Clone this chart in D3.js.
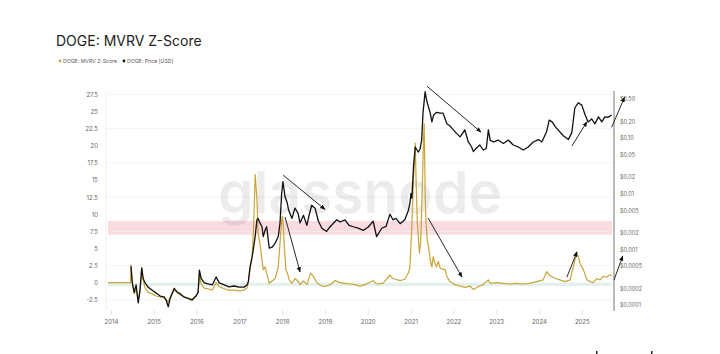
<!DOCTYPE html>
<html>
<head>
<meta charset="utf-8">
<script src="https://cdn.jsdelivr.net/npm/d3@7/dist/d3.min.js"></script>
<style>
  html, body { margin: 0; padding: 0; background: #fff; }
  svg { display: block; }
  text { font-family: Inter, "Noto Sans", sans-serif; }
</style>
</head>
<body>
<svg id="chart" width="720" height="354"></svg>
<script>
// ---------------- DATA ----------------
const title = "DOGE: MVRV Z-Score";
const seriesNames = ["DOGE: MVRV Z-Score", "DOGE: Price [USD]"];

const priceDates = ["2014-06-21","2014-07-02","2014-07-18","2014-08-04","2014-08-22","2014-09-06","2014-09-21","2014-10-03","2014-10-20","2014-11-14","2014-12-17",
"2015-01-23","2015-02-25","2015-03-31","2015-04-17","2015-05-05","2015-05-21","2015-06-25","2015-07-21","2015-08-15","2015-09-17","2015-10-24","2015-11-25","2015-12-28",
"2016-01-15","2016-01-26","2016-02-10","2016-03-07","2016-04-09","2016-05-15","2016-06-17","2016-07-13","2016-08-26","2016-10-04","2016-11-17","2016-12-30",
"2017-02-10","2017-03-07","2017-03-18","2017-04-02","2017-04-20","2017-05-03","2017-05-16","2017-05-31","2017-06-10","2017-06-29","2017-07-13","2017-07-24","2017-08-08","2017-08-22","2017-09-13","2017-10-08","2017-11-03","2017-11-29","2017-12-14","2017-12-28",
"2018-01-08","2018-01-26","2018-02-14","2018-02-25","2018-03-26","2018-04-20","2018-05-16","2018-06-03","2018-07-02","2018-07-31","2018-08-19","2018-09-10","2018-10-09","2018-11-07","2018-12-06",
"2019-01-15","2019-02-14","2019-04-13","2019-05-10","2019-06-21","2019-07-26","2019-08-31","2019-10-11","2019-11-25",
"2020-01-04","2020-02-17","2020-03-17","2020-04-30","2020-06-06","2020-07-09","2020-08-03","2020-08-29","2020-10-04","2020-11-13","2020-12-13","2020-12-27",
"2021-01-04","2021-01-12","2021-01-26","2021-02-10","2021-02-25","2021-03-08","2021-03-22","2021-04-06","2021-04-17","2021-04-28","2021-05-05","2021-05-18","2021-06-03","2021-06-18","2021-07-02","2021-07-17","2021-08-11","2021-09-10","2021-10-05","2021-11-07","2021-12-03",
"2022-01-01","2022-01-30","2022-02-28","2022-04-09","2022-05-09","2022-06-06","2022-06-21","2022-07-13","2022-08-15","2022-09-13","2022-10-09","2022-10-27","2022-11-11","2022-12-10",
"2023-01-17","2023-03-04","2023-04-15","2023-05-27","2023-07-10","2023-08-21","2023-10-02","2023-11-14","2023-12-28",
"2024-01-26","2024-03-07","2024-03-29","2024-04-23","2024-05-19","2024-06-13","2024-07-27","2024-09-09","2024-10-08","2024-11-03","2024-12-02",
"2025-01-01","2025-01-30","2025-02-24","2025-03-26","2025-04-23","2025-05-23","2025-06-21","2025-07-17","2025-08-11","2025-09-13"];

const priceValues = [0.00050,0.00025,0.00017,0.00023,0.000109,0.000186,0.00046,0.00030,0.00025,0.00021,0.000186,
0.000164,0.000145,0.00014,0.000123,0.000093,0.00013,0.00020,0.00017,0.00016,0.00014,0.00013,0.000123,0.000145,
0.00017,0.000425,0.00030,0.00025,0.00024,0.00023,0.00032,0.00025,0.00023,0.000213,0.00022,0.00021,
0.00021,0.00023,0.00026,0.00048,0.00074,0.0011,0.0017,0.0034,0.0036,0.0029,0.00255,0.0017,0.0022,0.00255,0.00105,0.0011,0.0013,0.0017,0.0030,0.0101,
0.0164,0.0088,0.0068,0.0051,0.0036,0.0055,0.0045,0.0030,0.0041,0.0027,0.0041,0.0062,0.0055,0.0032,0.0024,
0.0021,0.00255,0.0034,0.0031,0.0034,0.0027,0.00255,0.0024,0.0022,
0.0025,0.0032,0.0017,0.0024,0.0026,0.0043,0.0034,0.0036,0.0029,0.0034,0.0050,0.0068,
0.0101,0.0083,0.0305,0.069,0.061,0.056,0.063,0.092,0.28,0.48,0.68,0.48,0.36,0.28,0.195,0.26,0.29,0.28,0.28,0.18,0.165,
0.14,0.12,0.105,0.14,0.085,0.069,0.057,0.065,0.075,0.061,0.065,0.14,0.092,0.085,
0.092,0.080,0.092,0.075,0.069,0.061,0.069,0.085,0.094,
0.085,0.13,0.21,0.195,0.16,0.14,0.11,0.094,0.125,0.35,0.43,
0.39,0.26,0.195,0.22,0.18,0.24,0.195,0.24,0.235,0.26];

const zDates = ["2013-12-05","2014-06-18","2014-06-21","2014-07-02","2014-07-18","2014-08-04","2014-08-22","2014-09-06","2014-09-21","2014-10-03","2014-10-20","2014-11-14","2014-12-17",
"2015-01-23","2015-02-25","2015-03-31","2015-04-17","2015-05-05","2015-05-21","2015-06-25","2015-07-21","2015-08-15","2015-09-17","2015-10-24","2015-11-25","2015-12-28",
"2016-01-15","2016-01-26","2016-02-10","2016-03-07","2016-04-09","2016-05-15","2016-06-17","2016-07-13","2016-08-26","2016-10-04","2016-11-17","2016-12-30",
"2017-02-10","2017-03-07","2017-03-18","2017-04-02","2017-04-20","2017-05-03","2017-05-16","2017-05-31","2017-06-10","2017-06-29","2017-07-13","2017-07-24","2017-08-08","2017-08-22","2017-09-13","2017-10-08","2017-11-03","2017-11-29","2017-12-14","2017-12-28",
"2018-01-04","2018-01-11","2018-01-19","2018-02-02","2018-02-15","2018-03-03","2018-03-26","2018-04-20","2018-05-16","2018-06-03","2018-07-02","2018-07-31","2018-09-02","2018-09-24","2018-10-29","2018-12-06",
"2019-01-15","2019-02-14","2019-03-29","2019-05-10","2019-06-21","2019-08-04","2019-09-13","2019-10-27","2019-12-09",
"2020-02-17","2020-03-17","2020-05-11","2020-07-09","2020-08-03","2020-10-04","2020-11-13","2020-12-13","2020-12-27",
"2021-01-12","2021-01-26","2021-02-10","2021-02-17","2021-02-28","2021-03-18","2021-03-29","2021-04-13","2021-04-20","2021-04-27","2021-05-06","2021-05-12","2021-05-23","2021-06-03","2021-06-18","2021-07-02","2021-07-13","2021-07-28","2021-08-11","2021-08-26","2021-09-10","2021-10-09","2021-10-23","2021-11-07","2021-12-03",
"2022-01-15","2022-02-28","2022-04-09","2022-05-23","2022-06-21","2022-07-31","2022-09-13","2022-10-27","2022-11-11",
"2023-01-01","2023-02-28","2023-05-01","2023-06-21","2023-08-19","2023-10-16","2023-12-13",
"2024-02-06","2024-03-07","2024-03-29","2024-04-19","2024-05-19","2024-06-28","2024-08-11","2024-09-24","2024-10-20","2024-11-18","2024-12-02","2024-12-17",
"2025-01-01","2025-01-15","2025-02-14","2025-03-11","2025-04-09","2025-05-08","2025-06-07","2025-07-02","2025-07-31","2025-08-29","2025-09-13"];

const zValues = [0,0,2.6,0.2,-1.6,-1.1,-2.5,-1.4,2.2,0.4,-0.8,-1.4,-1.65,
-1.95,-2.1,-2.25,-2.5,-2.8,-2.1,-1.1,-1.5,-1.8,-2.1,-2.25,-2.4,-1.95,
-1.5,1.0,-0.2,-0.8,-0.9,-1.1,0,-0.6,-0.9,-1.1,-1.1,-1.2,
-1.1,-0.8,-0.1,1.9,3.8,8.2,15.8,12.1,7.2,5.3,3.3,1.9,2.3,1.4,-0.1,0.25,0.6,2.3,5.8,9.2,
9.7,8.2,5.3,1.9,1.4,0.4,-0.1,0.6,0.25,-0.3,0.25,-0.3,1.4,0.9,-0.1,-0.5,
-0.5,-0.3,0.3,0,-0.1,-0.2,-0.3,-0.5,-0.3,
0.3,-0.2,-0.1,1.1,0.6,0.3,0.5,1.4,2.3,
8.2,15.0,20.4,15.0,8.7,4.3,6.2,15.0,20.0,23.2,12.6,9.2,6.2,5.3,3.3,2.3,3.8,2.8,2.3,3.1,2.15,1.9,1.9,0.9,0.15,
-0.3,-0.5,-0.7,-0.5,-1.0,-0.6,-0.3,0.4,-0.1,
0,-0.1,-0.2,-0.1,-0.2,-0.1,0.15,
0.4,1.6,1.1,0.9,0.6,0.4,0.15,0.4,2.3,4.3,3.8,2.8,
2.3,1.9,0.4,0.15,0,0.6,0.4,0.9,0.8,1.1,1.0];

const zTicks = [-2.5,0,2.5,5,7.5,10,12.5,15,17.5,20,22.5,25,27.5];
const zTickLabels = ["-2.5","0","2.5","5","7.5","10","12.5","15","17.5","20","22.5","25","27.5"];
const zGridLines = [-2.5,2.5,7.5,12.5,17.5,22.5,27.5];
const priceTicks = [0.0001,0.0002,0.0005,0.001,0.002,0.005,0.01,0.02,0.05,0.1,0.2,0.5];
const priceTickLabels = ["$0.0001","$0.0002","$0.0005","$0.001","$0.002","$0.005","$0.01","$0.02","$0.05","$0.10","$0.20","$0.50"];
const yearTicks = [2014,2015,2016,2017,2018,2019,2020,2021,2022,2023,2024,2025];
const redBand = [7, 9];
const greenBand = [-0.5, 0];
// annotation arrows: [startDate, startZ, endDate, endZ]
const arrows = [
  ["2018-01-10", 15.7, "2019-01-02", 10.7],
  ["2018-01-26", 9.6, "2018-06-03", 1.55],
  ["2021-05-21", 28.7, "2022-08-25", 22.0],
  ["2021-05-30", 9.45, "2022-03-16", 0.8],
  ["2024-10-08", 19.95, "2025-02-14", 23.5],
  ["2024-08-27", 0.8, "2024-11-21", 4.5],
  ["2025-09-13", 22.7, "2026-01-01", 27.1],
  ["2025-10-03", 0.4, "2025-12-17", 3.9]
];

// ---------------- CHART ----------------
const svg = d3.select("#chart");
const plotL = 106, plotR = 614, plotT = 91, plotB = 310;
const parse = d3.timeParse("%Y-%m-%d");

const x = d3.scaleTime().domain([parse("2013-11-20"), parse("2025-10-03")]).range([plotL, plotR]);
const yZ = d3.scaleLinear().domain([-4, 28]).range([plotB, plotT]);
const yP = d3.scaleLog().domain([0.0000815, 0.70]).range([plotB, plotT]);

const gold = "#c8a536";
const ink = "#111";

// Title
svg.append("text").attr("x", 56).attr("y", 46).attr("font-size", 14).attr("fill", "#222")
  .text(title);

// Legend
const legend = svg.append("g").attr("font-size", 5.2).attr("fill", "#555");
legend.append("circle").attr("cx", 60).attr("cy", 61).attr("r", 1.4).attr("fill", gold);
legend.append("text").attr("x", 63).attr("y", 62.8).text(seriesNames[0]);
legend.append("circle").attr("cx", 124).attr("cy", 61).attr("r", 1.4).attr("fill", ink);
legend.append("text").attr("x", 127).attr("y", 62.8).text(seriesNames[1]);

// Bands
svg.append("rect").attr("x", plotL + 2).attr("width", plotR - plotL - 4)
  .attr("y", yZ(redBand[1])).attr("height", yZ(redBand[0]) - yZ(redBand[1]))
  .attr("fill", "#fadbe0");
svg.append("rect").attr("x", plotL + 2).attr("width", plotR - plotL - 4)
  .attr("y", yZ(greenBand[1])).attr("height", yZ(greenBand[0]) - yZ(greenBand[1]))
  .attr("fill", "#e2f1ee");

// Grid
svg.append("g").selectAll("line").data(zGridLines).join("line")
  .attr("x1", plotL).attr("x2", plotR - 2)
  .attr("y1", d => yZ(d)).attr("y2", d => yZ(d))
  .attr("stroke", "#efefef").attr("stroke-width", 0.8);
svg.append("line").attr("x1", plotL).attr("x2", plotL).attr("y1", plotT).attr("y2", plotB)
  .attr("stroke", "#f1f1f1").attr("stroke-width", 1);

// Watermark
svg.append("text").attr("x", 218).attr("y", 213)
  .attr("font-size", 58).attr("font-weight", 600)
  .attr("textLength", 284).attr("lengthAdjust", "spacingAndGlyphs")
  .attr("fill", "#000").attr("fill-opacity", 0.075)
  .text("glassnode");

// Left axis
const axL = svg.append("g").attr("transform", `translate(${plotL - 8},0)`)
  .call(d3.axisLeft(yZ).tickValues(zTicks).tickSize(0).tickPadding(0)
    .tickFormat((d, i) => zTickLabels[i]));
axL.select(".domain").remove();
axL.selectAll("text").attr("font-size", 6).attr("fill", "#666")
  .attr("font-family", "Inter, 'Noto Sans', sans-serif");

// Bottom axis
const axB = svg.append("g").attr("transform", `translate(0,${plotB})`)
  .call(d3.axisBottom(x).tickValues(yearTicks.map(y => new Date(y, 0, 1)))
    .tickSize(5).tickPadding(5).tickFormat(d3.timeFormat("%Y")));
axB.select(".domain").remove();
axB.selectAll("line").attr("stroke", "#e3e3e3");
axB.selectAll("text").attr("font-size", 6).attr("fill", "#666")
  .attr("font-family", "Inter, 'Noto Sans', sans-serif");

// Right axis
svg.append("line").attr("x1", plotR).attr("x2", plotR).attr("y1", plotT).attr("y2", plotB + 1)
  .attr("stroke", "#a9a9a9").attr("stroke-width", 1.6);
const axR = svg.append("g").attr("transform", `translate(${plotR + 6},0)`)
  .call(d3.axisRight(yP).tickValues(priceTicks).tickSize(0).tickPadding(0)
    .tickFormat((d, i) => priceTickLabels[i]));
axR.select(".domain").remove();
axR.selectAll("text").attr("font-size", 5.5).attr("fill", "#666")
  .attr("font-family", "Inter, 'Noto Sans', sans-serif");

// Lines
const zData = zDates.map((d, i) => ({ date: parse(d), v: zValues[i] }));
const pData = priceDates.map((d, i) => ({ date: parse(d), v: priceValues[i] }));

svg.append("path").datum(zData)
  .attr("d", d3.line().x(d => x(d.date)).y(d => yZ(d.v)))
  .attr("fill", "none").attr("stroke", gold).attr("stroke-width", 1.2)
  .attr("stroke-linejoin", "round");

svg.append("path").datum(pData)
  .attr("d", d3.line().x(d => x(d.date)).y(d => yP(d.v)))
  .attr("fill", "none").attr("stroke", ink).attr("stroke-width", 1.3)
  .attr("stroke-linejoin", "round");

// Arrow annotations
svg.append("defs").append("marker")
  .attr("id", "arrowhead").attr("viewBox", "0 0 10 10")
  .attr("refX", 9).attr("refY", 5).attr("markerWidth", 6).attr("markerHeight", 6)
  .attr("orient", "auto-start-reverse")
  .append("path").attr("d", "M0,1 L10,5 L0,9 z").attr("fill", ink);

svg.append("g").selectAll("line").data(arrows).join("line")
  .attr("x1", d => x(parse(d[0]))).attr("y1", d => yZ(d[1]))
  .attr("x2", d => x(parse(d[2]))).attr("y2", d => yZ(d[3]))
  .attr("stroke", ink).attr("stroke-width", 0.9)
  .attr("marker-end", "url(#arrowhead)");

// tiny cut-off marks at bottom edge
svg.append("rect").attr("x", 596).attr("y", 351).attr("width", 1.5).attr("height", 3).attr("fill", "#222");
svg.append("rect").attr("x", 651).attr("y", 351).attr("width", 1.5).attr("height", 3).attr("fill", "#222");
</script>
</body>
</html>
